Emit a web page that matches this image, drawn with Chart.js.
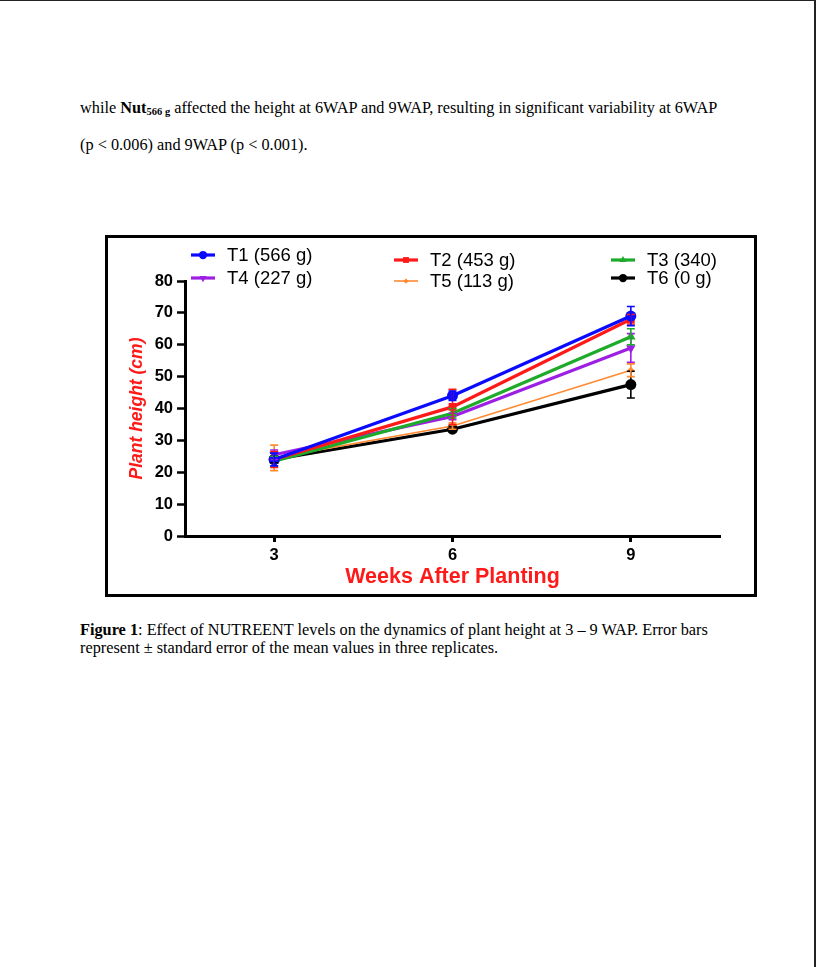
<!DOCTYPE html>
<html>
<head>
<meta charset="utf-8">
<script src="https://cdn.jsdelivr.net/npm/chart.js@4.4.0/dist/chart.umd.min.js"></script>
<style>
html, body { margin: 0; padding: 0; background: #fff; }
body { width: 817px; height: 967px; position: relative; overflow: hidden; font-family: "Liberation Serif", "Times New Roman", serif; color: #000; }
.edge { position: absolute; left: 0; top: 0; width: 816px; height: 967px; border-top: 1px solid #222; border-right: 2px solid #222; box-sizing: border-box; }
.para { position: absolute; left: 80px; top: 89px; width: 720px; font-size: 16.3px; line-height: 37px; white-space: nowrap; }
.para sub { font-size: 10.5px; vertical-align: -2px; line-height: 0; }
.fig { position: absolute; left: 105px; top: 235px; width: 652px; height: 362px; border: 3px solid #000; box-sizing: border-box; }
.plot { position: relative; width: 646px; height: 356px; }
.caption { position: absolute; left: 80px; top: 621px; width: 720px; font-size: 16.3px; line-height: 18px; white-space: nowrap; }
</style>
</head>
<body>
<div class="edge"></div>
<div class="para">while <b>Nut<sub>566 g</sub></b> affected the height at 6WAP and 9WAP, resulting in significant variability at 6WAP<br>(p &lt; 0.006) and 9WAP (p &lt; 0.001).</div>
<div class="fig"><div class="plot"><canvas id="chart"></canvas></div></div>
<div class="caption"><b>Figure 1</b>: Effect of NUTREENT levels on the dynamics of plant height at 3 &ndash; 9 WAP. Error bars<br>represent &plusmn; standard error of the mean values in three replicates.</div>
<script>
// weeks after planting
var weeks = [3, 6, 9];
var xTicks = [3, 6, 9];

var names = ['T1 (566 g)', 'T2 (453 g)', 'T3 (340)', 'T4 (227 g)', 'T5 (113 g)', 'T6 (0 g)'];

// mean plant height (cm)
var t1 = [24.0, 44.0, 69.0];
var t2 = [24.0, 40.5, 68.0];
var t3 = [23.5, 38.5, 62.5];
var t4 = [25.5, 37.5, 59.0];
var t5 = [24.5, 34.5, 52.0];
var t6 = [24.0, 33.5, 47.5];

// standard error
var t1Err = [2.0, 1.5, 3.0];
var t2Err = [2.5, 5.5, 1.5];
var t3Err = [1.5, 1.5, 2.5];
var t4Err = [1.5, 1.0, 4.5];
var t5Err = [4.0, 1.0, 2.0];
var t6Err = [1.0, 0.8, 4.2];

function pts(vals) {
    return weeks.map(function (w, i) { return { x: w, y: vals[i] }; });
}

function series(i, vals, errs, color, style, rot, radius, width) {
    return {
        label: names[i],
        data: pts(vals),
        errors: errs,
        borderColor: color,
        backgroundColor: color,
        borderWidth: width,
        pointStyle: style,
        pointRotation: rot,
        pointRadius: radius,
        pointBorderWidth: 0,
        pointHoverRadius: radius,
        tension: 0
    };
}

var datasets = [
    series(0, t1, t1Err, '#0a0aff', 'circle', 0, 5.5, 3.2),
    series(1, t2, t2Err, '#ff1a1a', 'rect', 0, 5.5, 3.2),
    series(2, t3, t3Err, '#1fab2a', 'triangle', 0, 5.5, 3.2),
    series(3, t4, t4Err, '#9d1fe3', 'triangle', 180, 5.5, 3.2),
    series(4, t5, t5Err, '#ff8a30', 'rectRot', 0, 3.5, 1.6),
    series(5, t6, t6Err, '#000000', 'circle', 0, 5.5, 3.2)
];

var errorBars = {
    id: 'errorBars',
    afterDatasetsDraw: function (chart) {
        var ctx = chart.ctx;
        var xs = chart.scales.x, ys = chart.scales.y;
        for (var i = chart.data.datasets.length - 1; i >= 0; i--) {
            var ds = chart.data.datasets[i];
            ctx.save();
            ctx.strokeStyle = ds.borderColor;
            ctx.lineWidth = 1.6;
            ds.data.forEach(function (p, j) {
                var e = ds.errors[j];
                var px = xs.getPixelForValue(p.x);
                var top = ys.getPixelForValue(p.y + e);
                var bot = ys.getPixelForValue(p.y - e);
                ctx.beginPath();
                ctx.moveTo(px, top); ctx.lineTo(px, bot);
                ctx.moveTo(px - 4, top); ctx.lineTo(px + 4, top);
                ctx.moveTo(px - 4, bot); ctx.lineTo(px + 4, bot);
                ctx.stroke();
            });
            ctx.restore();
        }
    }
};

// legend: 3 columns x 2 rows
var legendSpots = [
    { x: 83, y: 17 }, { x: 286, y: 22 }, { x: 503, y: 22 },
    { x: 83, y: 40 }, { x: 286, y: 43 }, { x: 503, y: 40 }
];

var legendBox = {
    id: 'legendBox',
    afterDraw: function (chart) {
        var ctx = chart.ctx;
        ctx.save();
        chart.data.datasets.forEach(function (ds, i) {
            var s = legendSpots[i];
            ctx.strokeStyle = ds.borderColor;
            ctx.fillStyle = ds.backgroundColor;
            ctx.lineWidth = ds.borderWidth;
            ctx.beginPath();
            ctx.moveTo(s.x, s.y); ctx.lineTo(s.x + 24, s.y);
            ctx.stroke();
            Chart.helpers.drawPoint(ctx, {
                pointStyle: ds.pointStyle,
                rotation: ds.pointRotation,
                radius: ds.pointRadius * 0.75,
                borderWidth: 0
            }, s.x + 12, s.y);
            ctx.fillStyle = '#000';
            ctx.font = '18.5px "Liberation Sans", Arial, sans-serif';
            ctx.textBaseline = 'middle';
            ctx.fillText(ds.label, s.x + 36, s.y + 1);
        });
        ctx.restore();
    }
};

var tickFont = { family: '"Liberation Sans", Arial, sans-serif', weight: 'bold', size: 16.5 };

var c = document.getElementById('chart');
var ctx = c.getContext('2d');
var myChart = new Chart(ctx, {
    type: 'line',
    data: { datasets: datasets },
    plugins: [errorBars, legendBox],
    options: {
        responsive: true,
        maintainAspectRatio: false,
        animation: false,
        layout: { padding: { top: 43, right: 34, left: 0, bottom: 0 } },
        plugins: { legend: { display: false }, tooltip: { enabled: false } },
        scales: {
            x: {
                type: 'linear',
                min: 1.5,
                max: 10.5,
                afterBuildTicks: function (s) { s.ticks = xTicks.map(function (v) { return { value: v }; }); },
                afterFit: function (s) { s.height = 58; },
                grid: { drawOnChartArea: false, drawTicks: true, tickLength: 6, tickWidth: 3, tickColor: '#000' },
                border: { display: true, color: '#000', width: 3 },
                ticks: { color: '#000', font: tickFont, padding: 4, maxRotation: 0 },
                title: {
                    display: true,
                    text: 'Weeks After Planting',
                    color: '#ff1a1a',
                    font: { family: '"Liberation Sans", Arial, sans-serif', weight: 'bold', size: 21.5 },
                    padding: { top: 0, bottom: 4 }
                }
            },
            y: {
                min: 0,
                max: 80,
                afterFit: function (s) { s.width = 77; },
                grid: { drawOnChartArea: false, drawTicks: true, tickLength: 8, tickWidth: 2.5, tickColor: '#000' },
                border: { display: true, color: '#000', width: 3 },
                ticks: { stepSize: 10, color: '#000', font: tickFont, padding: 4 },
                title: {
                    display: true,
                    text: 'Plant height (cm)',
                    color: '#ff1a1a',
                    font: { family: '"Liberation Sans", Arial, sans-serif', weight: 'bold', style: 'italic', size: 17.5 },
                    padding: { top: 19, bottom: 0 }
                }
            }
        }
    }
});
</script>
</body>
</html>
